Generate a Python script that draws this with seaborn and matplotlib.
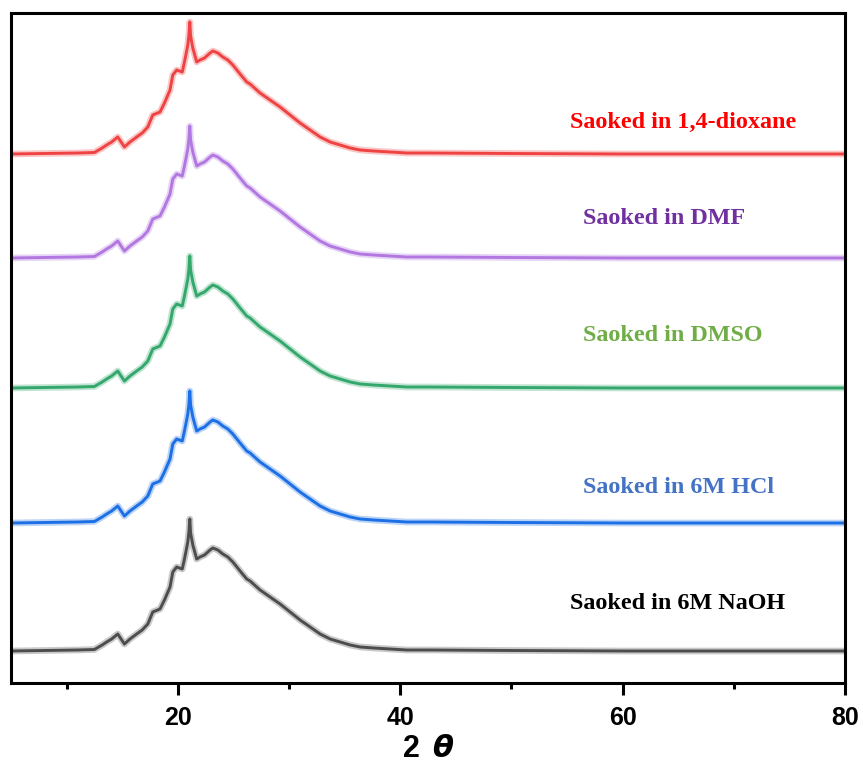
import numpy as np
import pandas as pd
import matplotlib
matplotlib.use("Agg")
import matplotlib.pyplot as plt
import seaborn as sns

# Diffraction profile (height above baseline, a.u.) shared by all soaked samples
two_theta = [5, 8, 11, 12.5, 13.2, 13.6, 14.05, 14.6, 15.2, 15.7, 16.3, 16.8,
             17.3, 17.75, 18.4, 18.8, 19.3, 19.55, 19.9, 20.4, 20.6, 20.9,
             21.0, 21.08, 21.15, 21.35, 21.7, 22.0, 22.4, 22.9, 23.15, 23.6,
             24.05, 24.5, 24.95, 25.6, 26.2, 26.5, 27.4, 28.3, 29.2, 30.1,
             31.0, 31.9, 32.8, 33.7, 34.6, 35.5, 36.4, 37.6, 39.1, 40.6,
             42.7, 50, 60, 70, 80]
intensity = [0, 0.5, 1, 1.5, 6, 9, 12, 17, 7, 12, 17, 21,
             27, 39, 42, 51, 64, 79, 84, 82, 92, 109,
             119, 132, 118, 106, 92, 94, 96, 101, 103, 101,
             97, 94, 89, 80, 72, 70, 61, 54, 47, 39,
             31, 24, 17, 12, 9, 6, 4, 3, 2, 1,
             1, 0.5, 0, 0, 0]

samples = ["Saoked in 1,4-dioxane", "Saoked in DMF", "Saoked in DMSO",
           "Saoked in 6M HCl", "Saoked in 6M NaOH"]
offsets = [529, 425, 295, 160, 32]
line_colors = ["#ef4343", "#b277e0", "#34a86c", "#1c6fe4", "#4d4d4d"]
label_colors = ["#ff0000", "#7030a0", "#70ad47", "#4472c4", "#000000"]
label_x = [55.3, 56.4, 56.4, 56.4, 55.3]
label_y = [555, 459, 342, 190, 74]

rows = []
for name, off in zip(samples, offsets):
    for t, v in zip(two_theta, intensity):
        rows.append({"two_theta": t, "intensity": v + off, "sample": name})
df = pd.DataFrame(rows)

sns.set_theme(style="ticks")
plt.rcParams["font.family"] = ["Liberation Sans", "DejaVu Sans"]
plt.rcParams["mathtext.fontset"] = "dejavusans"

fig = plt.figure(figsize=(8.63, 7.69), dpi=100)
ax = fig.add_axes([11 / 863, 1 - 683 / 769, (845 - 11) / 863, (683 - 13) / 769])

palette = dict(zip(samples, line_colors))
# soft halo under each trace, then the trace itself
sns.lineplot(data=df, x="two_theta", y="intensity", hue="sample",
             palette=palette, legend=False, ax=ax, lw=4.8, alpha=0.3,
             estimator=None, sort=False)
sns.lineplot(data=df, x="two_theta", y="intensity", hue="sample",
             palette=palette, legend=False, ax=ax, lw=2.1,
             estimator=None, sort=False)

for name, x, y, c in zip(samples, label_x, label_y, label_colors):
    ax.text(x, y, name, color=c, fontsize=17.4, fontweight="bold",
            family=["Liberation Serif", "DejaVu Serif"], ha="left", va="baseline")

ax.set_xlim(5, 80)
ax.set_ylim(0, 670)
ax.set_yticks([])
ax.set_xticks([20, 40, 60, 80])
ax.set_xticks([10, 30, 50, 70], minor=True)
ax.tick_params(axis="x", which="major", direction="out", length=8.6, width=2.2,
               pad=8, labelsize=18, color="black", labelcolor="black")
ax.tick_params(axis="x", which="minor", direction="out", length=4.3, width=2.2,
               color="black")
for lab in ax.get_xticklabels():
    lab.set_fontweight("bold")
for sp in ax.spines.values():
    sp.set_visible(True)
    sp.set_linewidth(2.2)
    sp.set_color("black")

ax.set_xlabel(r"2 $\,\boldsymbol{\theta}$", fontsize=22, fontweight="bold",
              labelpad=3, color="black")
ax.set_ylabel("")

fig.savefig("out.png", dpi=100, facecolor="white")
